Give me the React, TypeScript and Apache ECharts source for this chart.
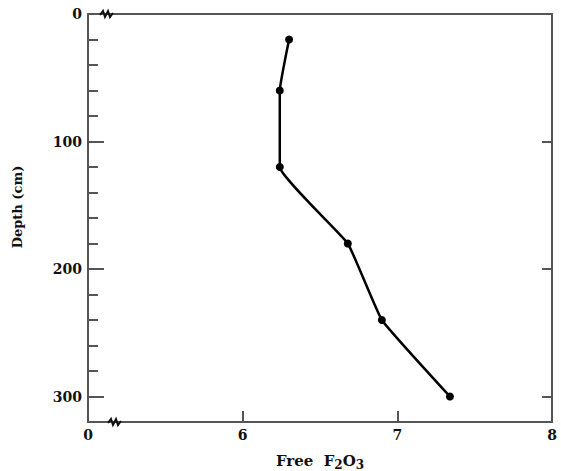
import React, { useEffect, useRef } from "react";
import * as echarts from "echarts";

const ironValues = [6.3, 6.24, 6.24, 6.68, 6.9, 7.34];
const depthValues = [20, 60, 120, 180, 240, 300];
const xTickLabels: Record<number, string> = { 5: "0", 6: "6", 7: "7", 8: "8" };
const depthTickLabels = [0, 100, 200, 300];

const FONT = "'DejaVu Serif', serif";
const AXIS_COLOR = "#555";

export default function App() {
  const ref = useRef<HTMLDivElement>(null);
  useEffect(() => {
    if (!ref.current) return;
    const chart = echarts.init(ref.current, null, { renderer: "svg" });
    const data = ironValues.map((v, i) => [v, depthValues[i]]);
    const zig = (x0: number, y0: number) => ({
      type: "polyline",
      shape: {
        points: [
          [x0, y0 + 1],
          [x0 + 3, y0 - 3],
          [x0 + 5, y0 + 3],
          [x0 + 8, y0 - 3],
          [x0 + 10, y0 + 3],
          [x0 + 13, y0 - 1],
        ],
      },
      style: { stroke: "#111", lineWidth: 2, fill: null },
      z: 100,
    });
    chart.setOption({
      animation: false,
      backgroundColor: "#fff",
      grid: { left: 88, right: 9, top: 14, bottom: 49, outerBoundsMode: "none", containLabel: false },
      xAxis: [
        {
          type: "value",
          position: "bottom",
          min: 5,
          max: 8,
          interval: 1,
          name: "{b|Free  F}{s|2}{b|O}{s|3}",
          nameLocation: "middle",
          nameGap: 28,
          nameTextStyle: {
            rich: {
              b: { fontFamily: FONT, fontWeight: "bold", fontSize: 15, color: "#111" },
              s: { fontFamily: FONT, fontWeight: "bold", fontSize: 12, color: "#111", padding: [9, 0, 0, 0] },
            },
          },
          axisLine: { show: true, onZero: false, lineStyle: { color: AXIS_COLOR, width: 2 } },
          axisTick: { show: true, inside: true, length: 11, lineStyle: { color: AXIS_COLOR, width: 2 } },
          axisLabel: {
            formatter: (v: number) => xTickLabels[v] ?? "",
            fontFamily: FONT,
            fontWeight: "bold",
            fontSize: 14,
            color: "#111",
            margin: 6,
          },
          splitLine: { show: false },
        },
        {
          type: "value",
          position: "top",
          min: 5,
          max: 8,
          interval: 1,
          axisLine: { show: true, onZero: false, lineStyle: { color: AXIS_COLOR, width: 2 } },
          axisTick: { show: false },
          axisLabel: { show: false },
          splitLine: { show: false },
        },
      ],
      yAxis: [
        {
          type: "value",
          position: "left",
          inverse: true,
          min: 0,
          max: 320,
          interval: 100,
          name: "Depth (cm)",
          nameLocation: "middle",
          nameGap: 64,
          nameRotate: 90,
          nameTextStyle: {
            fontFamily: FONT,
            fontWeight: "bold",
            fontSize: 13,
            color: "#111",
            padding: [0, 0, 0, 22],
          },
          axisLine: { show: true, onZero: false, lineStyle: { color: AXIS_COLOR, width: 2 } },
          axisTick: { show: true, inside: true, length: 16, lineStyle: { color: AXIS_COLOR, width: 2 } },
          axisLabel: {
            formatter: (v: number) => (depthTickLabels.includes(v) ? String(v) : ""),
            fontFamily: FONT,
            fontWeight: "bold",
            fontSize: 14,
            color: "#111",
            margin: 6,
          },
          splitLine: { show: false },
        },
        {
          type: "value",
          position: "left",
          inverse: true,
          min: 0,
          max: 320,
          interval: 20,
          axisLine: { show: false },
          axisTick: { show: true, inside: true, length: 10, lineStyle: { color: AXIS_COLOR, width: 2 } },
          axisLabel: { show: false },
          splitLine: { show: false },
        },
        {
          type: "value",
          position: "right",
          inverse: true,
          min: 0,
          max: 320,
          interval: 100,
          axisLine: { show: true, onZero: false, lineStyle: { color: AXIS_COLOR, width: 2 } },
          axisTick: { show: true, inside: true, length: 10, lineStyle: { color: AXIS_COLOR, width: 2 } },
          axisLabel: { show: false },
          splitLine: { show: false },
        },
      ],
      series: [
        {
          type: "line",
          xAxisIndex: 0,
          yAxisIndex: 0,
          data,
          smooth: 0.1,
          symbol: "circle",
          symbolSize: 8,
          lineStyle: { color: "#000", width: 2.5 },
          itemStyle: { color: "#000" },
          z: 10,
        },
      ],
      graphic: [zig(100, 14), zig(108, 422)],
    });
    return () => chart.dispose();
  }, []);
  return (
    <div
      ref={ref}
      style={{ position: "fixed", left: 0, top: 0, width: 561, height: 471 }}
    />
  );
}
